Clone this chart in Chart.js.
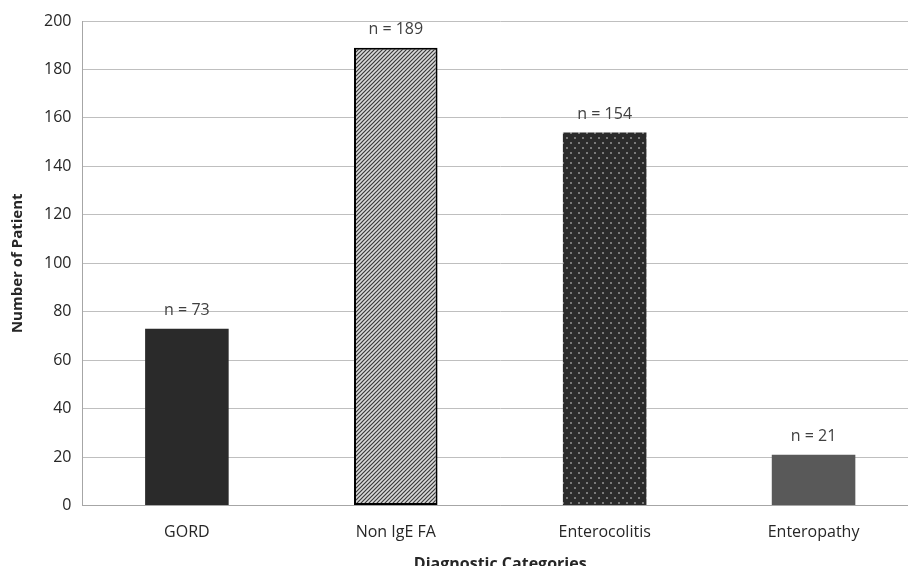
<!DOCTYPE html>
<html>
<head>
<meta charset="utf-8">
<script src="https://cdn.jsdelivr.net/npm/chart.js@4/dist/chart.umd.min.js"></script>
<style>
  html, body { margin: 0; padding: 0; background: #fff; overflow: hidden; }
  #wrap { width: 930px; height: 580px; }
</style>
</head>
<body>
<div id="wrap"><canvas id="patientChart" width="930" height="580"></canvas></div>
<script>
var categories = ["GORD", "Non IgE FA", "Enterocolitis", "Enteropathy"];
var patientCounts = [73, 189, 154, 21];
var countLabels = ["n = 73", "n = 189", "n = 154", "n = 21"];
var yTicks = [0, 20, 40, 60, 80, 100, 120, 140, 160, 180, 200];

var fontName = "'Open Sans', 'Noto Sans', sans-serif";

function hatchPattern() {
  var c = document.createElement('canvas');
  c.width = 4; c.height = 4;
  var g = c.getContext('2d');
  g.fillStyle = '#d9d9d9';
  g.fillRect(0, 0, 4, 4);
  g.strokeStyle = '#3a3a3a';
  g.lineWidth = 1.2;
  g.beginPath();
  g.moveTo(-1, 5); g.lineTo(5, -1);
  g.moveTo(-1, 1); g.lineTo(1, -1);
  g.moveTo(3, 5); g.lineTo(5, 3);
  g.stroke();
  return g.createPattern(c, 'repeat');
}

function dotPattern() {
  var c = document.createElement('canvas');
  c.width = 8; c.height = 10;
  var g = c.getContext('2d');
  g.fillStyle = '#2b2b2b';
  g.fillRect(0, 0, 8, 10);
  g.fillStyle = '#7a7a7a';
  g.fillRect(2, 2, 2, 2);
  g.fillRect(6, 7, 2, 2);
  return g.createPattern(c, 'repeat');
}

var barFills = ['#2a2a2a', hatchPattern(), dotPattern(), '#595959'];
var barBorders = ['#2a2a2a', '#000000', '#2b2b2b', '#595959'];
var borderWidths = [0, 2, 0, 0];

// draws the "n = .." text over each bar
var countLabelPlugin = {
  id: 'countLabels',
  afterDatasetsDraw: function(chart) {
    var ctx = chart.ctx;
    var meta = chart.getDatasetMeta(0);
    ctx.save();
    ctx.font = '16px ' + fontName;
    ctx.fillStyle = '#404040';
    ctx.textAlign = 'center';
    ctx.textBaseline = 'middle';
    for (var i = 0; i < meta.data.length; i++) {
      var bar = meta.data[i];
      ctx.fillText(countLabels[i], bar.x, bar.y - 18);
    }
    ctx.restore();
  }
};

var ctx = document.getElementById('patientChart').getContext('2d');
var chart = new Chart(ctx, {
  type: 'bar',
  data: {
    labels: categories,
    datasets: [{
      data: patientCounts,
      backgroundColor: barFills,
      borderColor: barBorders,
      borderWidth: borderWidths,
      borderSkipped: false,
      barPercentage: 0.4,
      categoryPercentage: 1.0
    }]
  },
  options: {
    responsive: false,
    animation: false,
    layout: { padding: { left: 9, top: 21, right: 12, bottom: 6 } },
    plugins: {
      legend: { display: false },
      tooltip: { enabled: false }
    },
    scales: {
      x: {
        grid: { display: false, drawTicks: false },
        border: { color: '#a6a6a6', width: 1 },
        ticks: { color: '#262626', font: { family: fontName, size: 16 }, padding: 17 },
        title: {
          display: true,
          text: 'Diagnostic Categories',
          color: '#262626',
          font: { family: fontName, size: 16, weight: 'bold' },
          padding: { top: -4, bottom: 0 }
        }
      },
      y: {
        min: 0,
        max: 200,
        afterBuildTicks: function(axis) {
          axis.ticks = yTicks.map(function(v) { return { value: v }; });
        },
        grid: { color: '#bfbfbf', lineWidth: 1, drawTicks: false },
        border: { color: '#a6a6a6', width: 1 },
        ticks: { color: '#262626', font: { family: fontName, size: 16 }, padding: 11 },
        title: {
          display: true,
          text: 'Number of Patient',
          color: '#262626',
          font: { family: fontName, size: 15, weight: 'bold' },
          padding: { top: 0, bottom: 6 }
        }
      }
    }
  },
  plugins: [countLabelPlugin]
});
</script>
</body>
</html>
